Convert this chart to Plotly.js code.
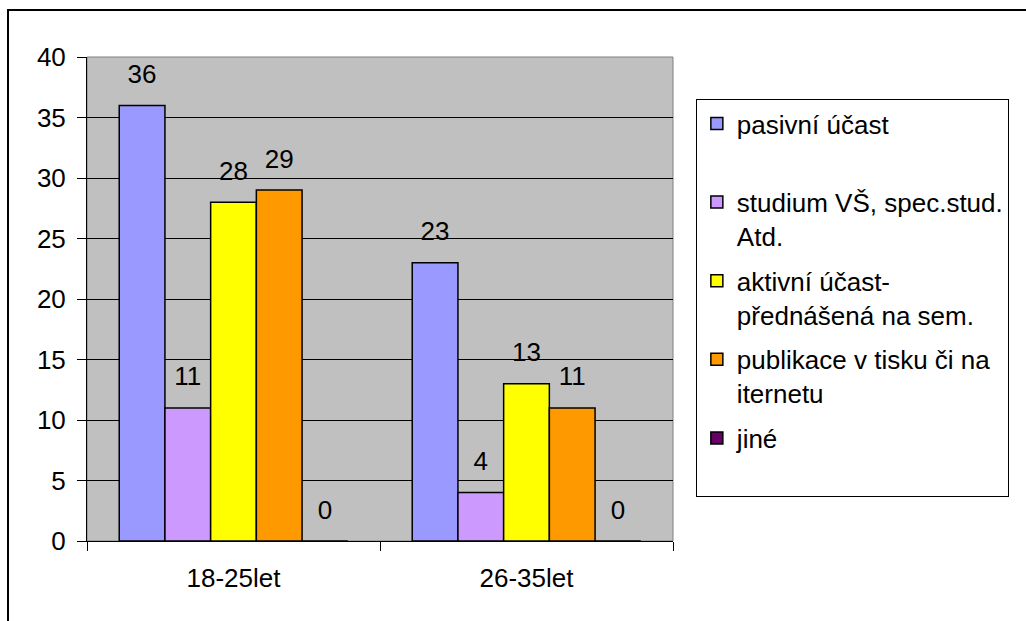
<!DOCTYPE html>
<html>
<head>
<meta charset="utf-8">
<script src="https://cdn.plot.ly/plotly-3.0.1.min.js"></script>
<style>html,body{margin:0;padding:0;background:#fff;}#chart{width:1026px;height:621px;}</style>
</head>
<body>
<div id="chart"></div>
<script>
const categories = ["18-25let", "26-35let"];
const seriesNames = [
  "pasivní účast<br>\u00a0",
  "studium VŠ, spec.stud.<br>Atd.",
  "aktivní účast-<br>přednášená na sem.",
  "publikace v tisku či na<br>iternetu",
  "jiné<br>\u00a0"
];
const pasivniUcast = [36, 23];
const studium = [11, 4];
const aktivniUcast = [28, 13];
const publikace = [29, 11];
const jine = [0, 0];
const seriesValues = [pasivniUcast, studium, aktivniUcast, publikace, jine];
const seriesColors = ["#9999FF", "#CC99FF", "#FFFF00", "#FF9900", "#660066"];
const yTicks = [0, 5, 10, 15, 20, 25, 30, 35, 40];

const FONT = "Liberation Sans, Arial, Helvetica, sans-serif";

const barTraces = seriesValues.map((vals, i) => ({
  type: "bar",
  name: seriesNames[i],
  legendgroup: "g" + i,
  offsetgroup: "o" + i,
  x: categories,
  y: vals,
  marker: {color: seriesColors[i], line: {color: "#000", width: 1.5}},
  hoverinfo: "skip"
}));

const labelTraces = seriesValues.map((vals, i) => ({
  type: "scatter",
  mode: "markers+text",
  showlegend: false,
  legendgroup: "g" + i,
  offsetgroup: "o" + i,
  x: categories,
  y: vals,
  text: vals.map(String),
  textposition: "top center",
  cliponaxis: false,
  marker: {size: 24, opacity: 0, color: "#000"},
  textfont: {family: FONT, size: 26, color: "#000"},
  hoverinfo: "skip"
}));

const layout = {
  width: 1026, height: 621,
  margin: {l: 87, r: 353, t: 57, b: 80},
  paper_bgcolor: "#fff",
  plot_bgcolor: "#C0C0C0",
  barmode: "group",
  scattermode: "group",
  bargap: 0.22,
  scattergap: 0.22,
  bargroupgap: 0,
  font: {family: FONT, size: 26, color: "#000"},
  xaxis: {
    type: "category",
    tickson: "boundaries",
    ticks: "outside", ticklen: 9, tickcolor: "#000", tickwidth: 1,
    showline: true, linecolor: "#000", linewidth: 1,
    showgrid: false,
    ticklabelstandoff: 14,
    tickfont: {family: FONT, size: 26, color: "#000"}
  },
  yaxis: {
    range: [0, 40],
    tickvals: yTicks,
    ticks: "outside", ticklen: 9, tickcolor: "#000", tickwidth: 1,
    showline: true, linecolor: "#000", linewidth: 1,
    showgrid: true, gridcolor: "#000", gridwidth: 1,
    zeroline: false,
    ticklabelstandoff: 6,
    tickfont: {family: FONT, size: 26, color: "#000"}
  },
  legend: {
    x: 1.039, y: 0.913, xanchor: "left", yanchor: "top",
    bgcolor: "#fff", bordercolor: "#000", borderwidth: 1,
    font: {family: FONT, size: 26, color: "#000"},
    valign: "top",
    tracegroupgap: 8,
    traceorder: "grouped",
    entrywidthmode: "pixels",
    entrywidth: 345
  },
  shapes: [
    {type: "rect", xref: "paper", yref: "paper", x0: -0.1348, x1: 1.7, y0: -0.2, y1: 1.097,
     line: {color: "#000", width: 2}, fillcolor: "rgba(0,0,0,0)", layer: "below"},
    {type: "rect", xref: "paper", yref: "paper", x0: 0, x1: 1, y0: 0, y1: 1,
     line: {color: "#808080", width: 1}, fillcolor: "rgba(0,0,0,0)", layer: "below"}
  ],
  showlegend: true
};

Plotly.newPlot("chart", barTraces.concat(labelTraces), layout, {displayModeBar: false, staticPlot: true});
</script>
</body>
</html>
